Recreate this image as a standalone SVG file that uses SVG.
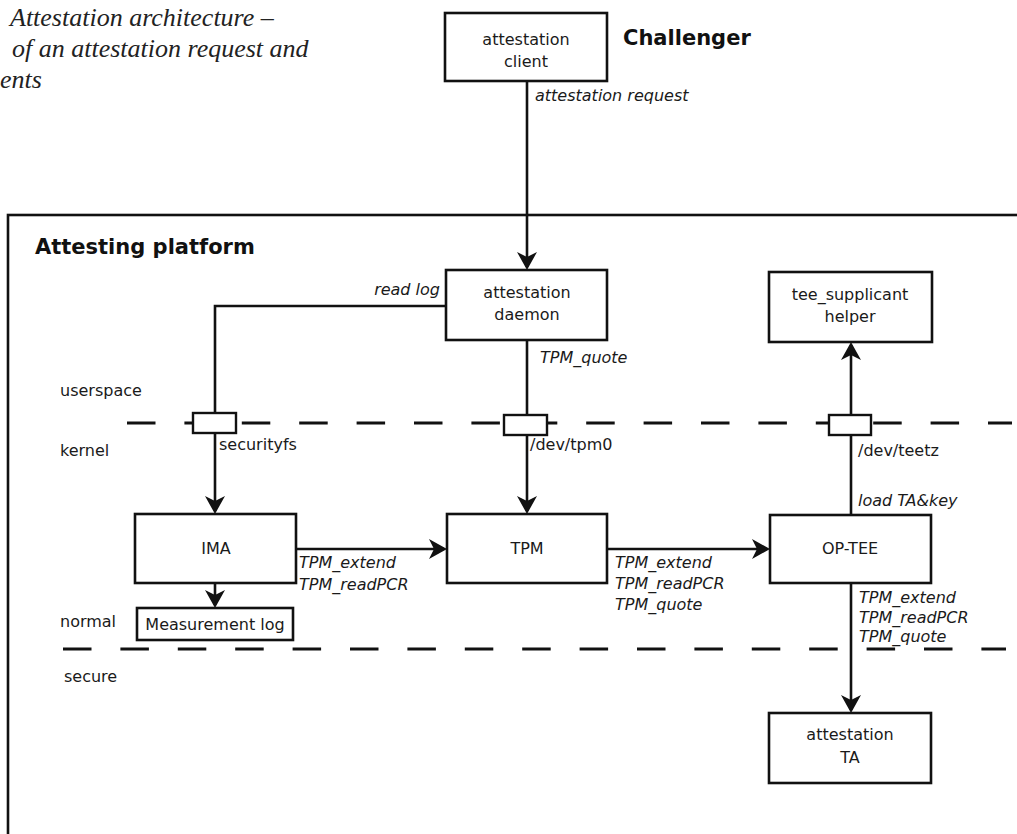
<svg xmlns="http://www.w3.org/2000/svg" width="1017" height="834" viewBox="0 0 1017 834">
<style>
.box{fill:#fff;stroke:#111;stroke-width:2.6}
.iface{fill:#fff;stroke:#111;stroke-width:2.4}
.ln{fill:none;stroke:#111;stroke-width:2.6}
.dash{fill:none;stroke:#111;stroke-width:3;stroke-dasharray:28.5 28.9}
.t{font-family:"DejaVu Sans",Verdana,sans-serif;font-size:16px;fill:#1a1a1a}
.c{text-anchor:middle}
.i{font-style:italic}
.b{font-weight:bold;font-size:21px;fill:#111}
.cap{font-family:"Liberation Serif","Times New Roman",serif;font-style:italic;font-size:26px;fill:#222}
</style>
<defs>
<marker id="ah" markerUnits="userSpaceOnUse" markerWidth="20" markerHeight="22" viewBox="0 -11 20 22" refX="15" refY="0" orient="auto">
<path d="M18,0 L0,-10 L5,0 L0,10 Z" fill="#111"/>
</marker>
</defs>
<rect width="1017" height="834" fill="#fff"/>

<g id="caption">
<text class="cap" x="10" y="26">Attestation architecture –</text>
<text class="cap" x="12" y="57">of an attestation request and</text>
<text class="cap" x="0" y="88">ents</text>
</g>

<g id="platform">
<rect x="8" y="215" width="1100" height="700" fill="none" stroke="#111" stroke-width="2.6"/>
<text class="t b" x="35" y="254">Attesting platform</text>
</g>

<g id="layers">
<path class="dash" d="M127,423 H1012"/>
<path class="dash" d="M63,649 H1006"/>
<text class="t" x="60" y="396">userspace</text>
<text class="t" x="60" y="456">kernel</text>
<text class="t" x="60" y="627">normal</text>
<text class="t" x="64" y="682">secure</text>
</g>

<g id="connectors">
<path class="ln" d="M527,81 V267" marker-end="url(#ah)"/>
<path class="ln" d="M446,306 H215 V511" marker-end="url(#ah)"/>
<path class="ln" d="M527,340 V511" marker-end="url(#ah)"/>
<path class="ln" d="M851,515 V345" marker-end="url(#ah)"/>
<path class="ln" d="M296,549 H444" marker-end="url(#ah)"/>
<path class="ln" d="M607,549 H767" marker-end="url(#ah)"/>
<path class="ln" d="M215,583 V605" marker-end="url(#ah)"/>
<path class="ln" d="M851,583 V710" marker-end="url(#ah)"/>
<text class="t i" x="535" y="101">attestation request</text>
<text class="t i" x="440" y="295" text-anchor="end">read log</text>
<text class="t i" x="540" y="363">TPM_quote</text>
<text class="t i" x="858" y="506">load TA&amp;key</text>
<text class="t i" x="299" y="568">TPM_extend</text>
<text class="t i" x="299" y="590">TPM_readPCR</text>
<text class="t i" x="615" y="568">TPM_extend</text>
<text class="t i" x="615" y="589">TPM_readPCR</text>
<text class="t i" x="615" y="610">TPM_quote</text>
<text class="t i" x="859" y="603">TPM_extend</text>
<text class="t i" x="859" y="623">TPM_readPCR</text>
<text class="t i" x="859" y="642">TPM_quote</text>
</g>

<g id="securityfs">
<rect class="iface" x="193" y="413" width="43" height="20"/>
<text class="t" x="219" y="450">securityfs</text>
</g>
<g id="devtpm0">
<rect class="iface" x="504" y="415" width="43" height="20"/>
<text class="t" x="530" y="450">/dev/tpm0</text>
</g>
<g id="devteetz">
<rect class="iface" x="829" y="415" width="42" height="20"/>
<text class="t" x="858" y="456">/dev/teetz</text>
</g>

<g id="client">
<rect class="box" x="445" y="13" width="162" height="68"/>
<text class="t c" x="526" y="45">attestation</text>
<text class="t c" x="526" y="67">client</text>
</g>
<g id="challenger">
<text class="t b" x="623" y="45">Challenger</text>
</g>
<g id="daemon">
<rect class="box" x="446" y="270" width="161" height="70"/>
<text class="t c" x="527" y="298">attestation</text>
<text class="t c" x="527" y="320">daemon</text>
</g>
<g id="helper">
<rect class="box" x="769" y="272" width="163" height="70"/>
<text class="t c" x="850" y="300">tee_supplicant</text>
<text class="t c" x="850" y="322">helper</text>
</g>
<g id="ima">
<rect class="box" x="135" y="514" width="161" height="69"/>
<text class="t c" x="216" y="554">IMA</text>
</g>
<g id="tpm">
<rect class="box" x="447" y="514" width="160" height="69"/>
<text class="t c" x="527" y="554">TPM</text>
</g>
<g id="optee">
<rect class="box" x="770" y="515" width="161" height="68"/>
<text class="t c" x="850" y="554">OP-TEE</text>
</g>
<g id="mlog">
<rect class="box" x="137" y="608" width="156" height="32"/>
<text class="t c" x="215" y="630">Measurement log</text>
</g>
<g id="ta">
<rect class="box" x="769" y="713" width="162" height="70"/>
<text class="t c" x="850" y="740">attestation</text>
<text class="t c" x="850" y="763">TA</text>
</g>
</svg>
